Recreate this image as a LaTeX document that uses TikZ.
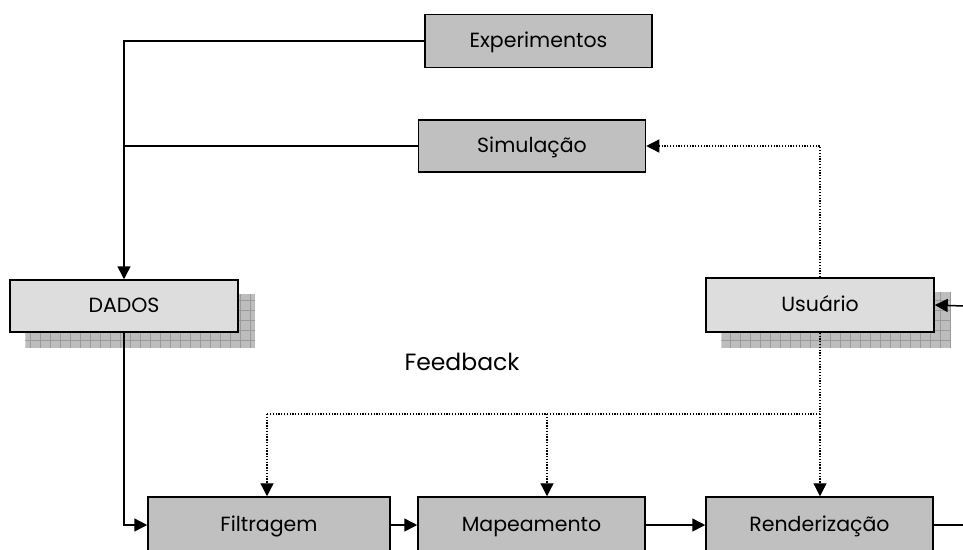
\documentclass[tikz,border=0pt]{standalone}
\usepackage{fontspec}
\setmainfont{Poppins}
\usetikzlibrary{arrows.meta,backgrounds}
\definecolor{boxgray}{HTML}{C0C0C0}
\definecolor{lightbox}{HTML}{DDDDDD}
\definecolor{shadowfill}{HTML}{BDBDBD}
\definecolor{shadowgrid}{HTML}{9A9A9A}
\tikzset{
  box/.style={draw=black, line width=1.5pt, fill=boxgray, minimum width=227pt,
    minimum height=53pt, inner sep=0pt, text height=16pt, text depth=2.5pt,
    font=\fontsize{20.5}{24}\selectfont},
  srcbox/.style={box, fill=lightbox},
  wire/.style={line width=1.5pt},
  link/.style={wire, -{Triangle[length=13pt,width=13pt]}},
  fb/.style={line width=1.3pt, dash pattern=on 1.3pt off 1.5pt},
  fblink/.style={fb, -{Triangle[length=13pt,width=13pt,sep=0pt]}},
  shadowbox/.style={fill=shadowfill}
}
\begin{document}
\begin{tikzpicture}[x=1pt,y=-1pt]
\useasboundingbox (0,0) rectangle (963,549);
\clip (0,0) rectangle (963,549);

% sources
\node[box] (exp) at (538.5,41) {Experimentos};
\node[box, minimum height=52pt] (sim) at (532,146) {Simulação};
\node[srcbox, minimum width=228pt, minimum height=52pt] (dados) at (124,306) {DADOS};
\node[srcbox, minimum width=228pt, minimum height=54pt] (usr) at (820,305) {Usuário};

% pipeline
\node[box, minimum width=242pt, minimum height=56pt] (filt) at (269,525) {Filtragem};
\node[box, minimum height=56pt] (map) at (531.5,525) {Mapeamento};
\node[box, minimum height=56pt] (rend) at (819.5,525) {Renderização};

\node[font=\fontsize{23.5}{28}\selectfont] (feedback) at (462,362) {Feedback};

% drop shadows behind the two light boxes
\begin{scope}[on background layer]
  \foreach \n in {dados,usr}{
    \begin{scope}
      \clip ([shift={(16,15)}]\n.north west) rectangle ([shift={(16,15)}]\n.south east);
      \fill[shadowbox] ([shift={(16,15)}]\n.north west) rectangle ([shift={(16,15)}]\n.south east);
      \draw[shadowgrid, line width=0.6pt, step=10pt]
        ([shift={(10,5)}]\n.north west) grid ([shift={(26,25)}]\n.south east);
    \end{scope}
  }
\end{scope}

% data flow
\draw[link] (exp.west) -| (dados.north);
\draw[wire] (sim.west) -- (sim.west -| dados.north);
\draw[link] (dados.south) |- (filt.west);
\draw[link] (filt.east) -- (map.west);
\draw[link] (map.east) -- (rend.west);
\coordinate (rout) at (963,525);
\draw[wire] (rend.east) -- (rout);
\coordinate (uin) at (963,306);
\draw[link] (uin) -- (usr.east);

% user feedback
\draw[fblink] (usr.north) |- (sim.east);
\coordinate (split) at (820,414);
\coordinate (fl) at (267,414);
\coordinate (ml) at (547,414);
\draw[fb] (usr.south) -- (split) -- (fl);
\draw[fblink] (fl) -- (fl |- filt.north);
\draw[fblink] (ml) -- (ml |- map.north);
\draw[fblink] (split) -- (split |- rend.north);
\end{tikzpicture}
\end{document}
